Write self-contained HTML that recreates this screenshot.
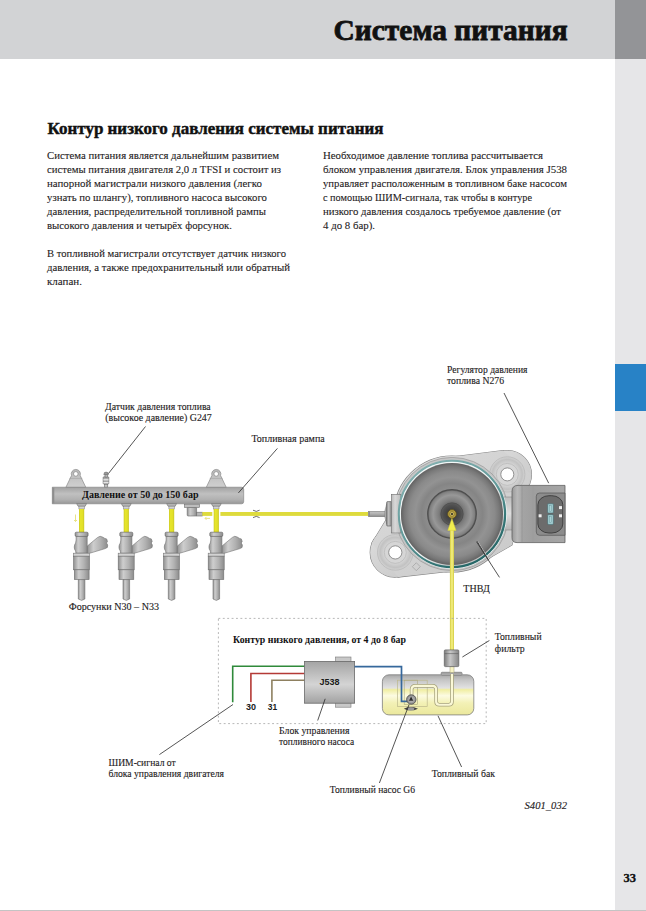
<!DOCTYPE html>
<html><head><meta charset="utf-8">
<style>
html,body{margin:0;padding:0;background:#fff;width:646px;height:911px;overflow:hidden}
svg{display:block}
.t{font-family:"Liberation Serif",serif;font-size:11px;fill:#1e1b22;stroke:#1e1b22;stroke-width:0.1}
.h{font-family:"Liberation Serif",serif;font-weight:bold;fill:#111}
.lb{font-family:"Liberation Serif",serif;font-size:9.6px;fill:#1e1b22;stroke:#1e1b22;stroke-width:0.12}
.s{font-family:"Liberation Sans",sans-serif;font-weight:bold;fill:#1a1a1a}
</style></head><body>
<svg width="646" height="911" viewBox="0 0 646 911">
<defs>
<linearGradient id="capg" x1="0" x2="0" y1="0" y2="1"><stop offset="0" stop-color="#8a8a8a"/><stop offset="1" stop-color="#c4c4c4"/></linearGradient>
<linearGradient id="yel" x1="0" x2="1" y1="0" y2="0"><stop offset="0" stop-color="#cdca28"/><stop offset="0.3" stop-color="#e6e52a"/><stop offset="0.7" stop-color="#e2e028"/><stop offset="1" stop-color="#c9c626"/></linearGradient>
<linearGradient id="yelv" x1="0" x2="1" y1="0" y2="0"><stop offset="0" stop-color="#cdc44a"/><stop offset="0.25" stop-color="#e8e25a"/><stop offset="0.5" stop-color="#f3ef8c"/><stop offset="0.8" stop-color="#e6e058"/><stop offset="1" stop-color="#c8c048"/></linearGradient>
<linearGradient id="injh" x1="0" x2="1" y1="0" y2="0"><stop offset="0" stop-color="#909090"/><stop offset="0.3" stop-color="#cecece"/><stop offset="0.65" stop-color="#b2b2b2"/><stop offset="1" stop-color="#8c8c8c"/></linearGradient>
<linearGradient id="earg" x1="0" x2="0" y1="0" y2="1"><stop offset="0" stop-color="#b8b8b8"/><stop offset="1" stop-color="#d0d0d0"/></linearGradient>
<linearGradient id="railg" x1="0" x2="0" y1="0" y2="1"><stop offset="0" stop-color="#a2a2a2"/><stop offset="0.4" stop-color="#c0c0c0"/><stop offset="0.75" stop-color="#b0b0b0"/><stop offset="1" stop-color="#979797"/></linearGradient>
<linearGradient id="flg" x1="0" x2="1" y1="0" y2="1"><stop offset="0" stop-color="#dedede"/><stop offset="0.5" stop-color="#d2d2d2"/><stop offset="1" stop-color="#c8c8c8"/></linearGradient>
<radialGradient id="earring"><stop offset="0.6" stop-color="#d6d6d6"/><stop offset="0.85" stop-color="#c2c2c2"/><stop offset="1" stop-color="#d4d4d4"/></radialGradient>
<linearGradient id="tubeg" x1="0" x2="0" y1="0" y2="1"><stop offset="0" stop-color="#c4c4c4"/><stop offset="0.5" stop-color="#b0b0b0"/><stop offset="1" stop-color="#8a8a8a"/></linearGradient>
<linearGradient id="fitg" x1="0" x2="1" y1="0" y2="0"><stop offset="0" stop-color="#9a9a9a"/><stop offset="0.4" stop-color="#c2c2c2"/><stop offset="1" stop-color="#7a7a7a"/></linearGradient>
<linearGradient id="blkg" x1="0" x2="1" y1="0" y2="0"><stop offset="0" stop-color="#b8b8b8"/><stop offset="0.4" stop-color="#d8d8d8"/><stop offset="1" stop-color="#bcbcbc"/></linearGradient>
<linearGradient id="blkv" x1="0" x2="0" y1="0" y2="1"><stop offset="0" stop-color="#bdbdbd"/><stop offset="0.5" stop-color="#dedede"/><stop offset="1" stop-color="#b5b5b5"/></linearGradient>
<linearGradient id="tealg" x1="0.2" x2="0.8" y1="0" y2="1"><stop offset="0" stop-color="#86b2b2"/><stop offset="0.5" stop-color="#5f9898"/><stop offset="0.75" stop-color="#347676"/><stop offset="1" stop-color="#226262"/></linearGradient>
<linearGradient id="hlTL" x1="0" x2="1" y1="0" y2="1"><stop offset="0" stop-color="#f4fafa" stop-opacity="1"/><stop offset="0.55" stop-color="#f4fafa" stop-opacity="0.9"/><stop offset="0.75" stop-color="#f4fafa" stop-opacity="0"/></linearGradient>
<linearGradient id="hlBR" x1="0" x2="1" y1="0" y2="1"><stop offset="0.45" stop-color="#eef6f6" stop-opacity="0"/><stop offset="0.7" stop-color="#eef6f6" stop-opacity="1"/></linearGradient>
<radialGradient id="diskg" cx="0.5" cy="0.5" r="0.5"><stop offset="0" stop-color="#7a7a7a"/><stop offset="0.5" stop-color="#8c8c8c"/><stop offset="0.6" stop-color="#858585"/><stop offset="0.72" stop-color="#939393"/><stop offset="0.84" stop-color="#8a8a8a"/><stop offset="0.93" stop-color="#787878"/><stop offset="1" stop-color="#626262"/></radialGradient>
<radialGradient id="innerg" cx="0.5" cy="0.5" r="0.5"><stop offset="0.4" stop-color="#646464"/><stop offset="0.55" stop-color="#7e7e7e"/><stop offset="0.78" stop-color="#989898"/><stop offset="0.93" stop-color="#808080"/><stop offset="1" stop-color="#5c5c5c"/></radialGradient>
<radialGradient id="coreg" cx="0.5" cy="0.5" r="0.5"><stop offset="0.3" stop-color="#3c3c3c"/><stop offset="0.8" stop-color="#505050"/><stop offset="1" stop-color="#5e5e5e"/></radialGradient>
<linearGradient id="connh" x1="0" x2="1" y1="0" y2="0"><stop offset="0" stop-color="#9a9a9a"/><stop offset="0.1" stop-color="#b8b8b8"/><stop offset="0.2" stop-color="#a4a4a4"/><stop offset="0.4" stop-color="#9e9e9e"/><stop offset="1" stop-color="#a6a6a6"/></linearGradient>
<linearGradient id="jg" x1="0" x2="0" y1="0" y2="1"><stop offset="0" stop-color="#a4a4a4"/><stop offset="0.55" stop-color="#d4d4d4"/><stop offset="1" stop-color="#a2a2a2"/></linearGradient>
<linearGradient id="tankg" x1="0" x2="0" y1="0" y2="1"><stop offset="0" stop-color="#a8a8a8"/><stop offset="0.12" stop-color="#c4c4c4"/><stop offset="0.33" stop-color="#e2e2e2"/><stop offset="0.37" stop-color="#f0eea2"/><stop offset="0.52" stop-color="#fcfbe2"/><stop offset="0.7" stop-color="#f3f1b6"/><stop offset="1" stop-color="#ebe89c"/></linearGradient>
<linearGradient id="filg" x1="0" x2="1" y1="0" y2="0"><stop offset="0" stop-color="#7c7c7c"/><stop offset="0.4" stop-color="#c8c8c8"/><stop offset="1" stop-color="#868686"/></linearGradient>
<radialGradient id="g6g"><stop offset="0" stop-color="#c8c8c8"/><stop offset="1" stop-color="#8a8a8a"/></radialGradient>
</defs>
<rect x="0" y="0" width="646" height="911" fill="#fff"/>
<!-- header band -->
<rect x="0" y="0" width="615" height="59" fill="#d2d3d5"/>
<rect x="615" y="0" width="31" height="59" fill="#939497"/>
<rect x="615" y="59" width="31" height="852" fill="#e6e6e8"/>
<rect x="615" y="364" width="31" height="47" fill="#2882c6"/>
<rect x="0" y="910" width="646" height="1" fill="#c4c4c4"/>
<text class="h" x="333.6" y="40.2" font-size="29.6" stroke="#111" stroke-width="0.8" textLength="234" lengthAdjust="spacingAndGlyphs">Система питания</text>
<text class="h" x="623.5" y="882" font-size="12" stroke="#111" stroke-width="0.3" textLength="12.5" lengthAdjust="spacingAndGlyphs">33</text>

<!-- section heading -->
<text class="h" x="47.5" y="134" font-size="17.5" stroke="#111" stroke-width="0.45" textLength="336" lengthAdjust="spacingAndGlyphs">Контур низкого давления системы питания</text>

<!-- left column -->
<g class="t">
<text x="47" y="159" textLength="232" lengthAdjust="spacingAndGlyphs">Система питания является дальнейшим развитием</text>
<text x="47" y="173" textLength="234" lengthAdjust="spacingAndGlyphs">системы питания двигателя 2,0 л TFSI и состоит из</text>
<text x="47" y="187" textLength="215" lengthAdjust="spacingAndGlyphs">напорной магистрали низкого давления (легко</text>
<text x="47" y="201" textLength="220" lengthAdjust="spacingAndGlyphs">узнать по шлангу), топливного насоса высокого</text>
<text x="47" y="214.5" textLength="219" lengthAdjust="spacingAndGlyphs">давления, распределительной топливной рампы</text>
<text x="47" y="228.5" textLength="185" lengthAdjust="spacingAndGlyphs">высокого давления и четырёх форсунок.</text>
<text x="47" y="257.3" textLength="239" lengthAdjust="spacingAndGlyphs">В топливной магистрали отсутствует датчик низкого</text>
<text x="47" y="271.2" textLength="243" lengthAdjust="spacingAndGlyphs">давления, а также предохранительный или обратный</text>
<text x="47" y="285" textLength="35" lengthAdjust="spacingAndGlyphs">клапан.</text>
</g>
<!-- right column -->
<g class="t">
<text x="323" y="159" textLength="220" lengthAdjust="spacingAndGlyphs">Необходимое давление топлива рассчитывается</text>
<text x="323" y="173" textLength="244" lengthAdjust="spacingAndGlyphs">блоком управления двигателя. Блок управления J538</text>
<text x="323" y="187" textLength="244" lengthAdjust="spacingAndGlyphs">управляет расположенным в топливном баке насосом</text>
<text x="323" y="201" textLength="209" lengthAdjust="spacingAndGlyphs">с помощью ШИМ-сигнала, так чтобы в контуре</text>
<text x="323" y="214.5" textLength="238" lengthAdjust="spacingAndGlyphs">низкого давления создалось требуемое давление (от</text>
<text x="323" y="228.5" textLength="52" lengthAdjust="spacingAndGlyphs">4 до 8 бар).</text>
</g>

<!-- DIAGRAM -->
<g id="diagram">
<!-- ears -->
<g>
<path d="M65.8,487.5 L71.5,475.5 A4.6,4.6 0 1 1 80.2,475.5 L85.9,487.5 Z" fill="url(#earg)" stroke="#7a7a7a" stroke-width="0.6"/>
<line x1="69.3" y1="478.4" x2="82.3" y2="478.4" stroke="#9a9a9a" stroke-width="0.5"/>
<circle cx="75.8" cy="473.9" r="2.3" fill="#fff" stroke="#777" stroke-width="0.6"/>
<path d="M206.2,487.5 L211.9,475.5 A4.6,4.6 0 1 1 220.6,475.5 L226.3,487.5 Z" fill="url(#earg)" stroke="#7a7a7a" stroke-width="0.6"/>
<line x1="209.7" y1="478.4" x2="222.7" y2="478.4" stroke="#9a9a9a" stroke-width="0.5"/>
<circle cx="216.2" cy="473.9" r="2.3" fill="#fff" stroke="#777" stroke-width="0.6"/>
</g>
<!-- pressure sensor G247 -->
<g stroke="#5a5a5a" stroke-width="0.5">
<rect x="104.4" y="484" width="3.4" height="3.4" fill="#c4c4c4"/>
<rect x="103.1" y="476.8" width="5.7" height="7.3" rx="0.8" fill="#a8a8a8"/>
<rect x="103.4" y="478.9" width="5.1" height="1.6" fill="#dedede" stroke="none"/>
<rect x="103.4" y="482" width="5.1" height="1.3" fill="#e6e6e6" stroke="none"/>
<rect x="105" y="474.4" width="2.4" height="2.6" fill="#c8c8c8"/>
<path d="M103.8,474.8 L104.4,472.6 Q106.1,471.6 107.8,472.6 L108.4,474.8 Z" fill="#9a9a9a"/>
</g>
<!-- rail -->
<path d="M52.3,487.2 L241.5,487.2 Q243.7,487.2 243.7,489.4 L243.7,501.6 Q243.7,503.8 241.5,503.8 L52.3,503.8 Z" fill="url(#railg)" stroke="#7c7c7c" stroke-width="0.6"/>
<rect x="52.3" y="487.6" width="2" height="15.8" fill="#8e8e8e"/>
<text class="h" x="82" y="497.8" font-size="10.5" textLength="116.5" lengthAdjust="spacingAndGlyphs" fill="#151515">Давление от 50 до 150 бар</text>
<!-- pressure port box -->
<g stroke="#6a6a6a" stroke-width="0.6">
<rect x="196.4" y="512.2" width="6.2" height="3.8" fill="#b8b8b8"/>
<rect x="187.2" y="507.2" width="9.4" height="8.8" rx="1" fill="url(#injh)"/>
<rect x="184.5" y="504.2" width="15" height="3.2" fill="#bdbdbd"/>
</g>
<!-- yellow line to pump -->
<rect x="202.3" y="512" width="10" height="3.9" fill="#dedb3c"/>
<rect x="220.4" y="512" width="148" height="3.9" fill="#dedb3c"/>
<path d="M253,510.2 Q256.3,512.6 259.6,510.2 M253,517.6 Q256.3,515.2 259.6,517.6" stroke="#444" stroke-width="0.8" fill="none"/>
<!-- small arrows -->
<path d="M210,518.4 L205,518.4 M206.5,516.9 L205,518.4 L206.5,519.9" stroke="#e6e07a" stroke-width="0.9" fill="none"/>
<path d="M75.5,514.5 L75.5,521.5 M74,520 L75.5,521.5 L77,520" stroke="#e6e07a" stroke-width="0.9" fill="none"/>
<g class="inj"><path d="M76.7,503.6 L86.5,503.6 L85.2,506.2 L78.0,506.2 Z" fill="#b9b9b9" stroke="#6a6a6a" stroke-width="0.6"/><rect x="78.9" y="506.2" width="5.4" height="2.8" fill="#d2d2d2" stroke="#7a7a7a" stroke-width="0.5"/><rect x="79.0" y="509" width="5.2" height="23.6" fill="url(#yel)"/><path d="M87.1,546.2 L97.7,537.4 L100.1,536.3 L102.6,537.1 L104.8,538.4 L106.6,538.9 L107.5,541.4 L106.5,543 L107.7,545 L107.4,547.4 L105.2,548.6 L87.1,554 Z" fill="url(#injh)" stroke="#707070" stroke-width="0.6"/><path d="M76.1,536 L87.2,536 L87.2,553.2 L75.9,553.2 L75.6,551 C73.7,549 73.9,545 75.6,543 L76.1,540 Z" fill="url(#injh)" stroke="#707070" stroke-width="0.6"/><rect x="75.1" y="532.2" width="13" height="4.2" rx="1.2" fill="url(#injh)" stroke="#5e5e5e" stroke-width="0.6"/><rect x="73.5" y="553.2" width="16" height="3" fill="#d2d2d2" stroke="#777" stroke-width="0.6"/><rect x="73.5" y="556.2" width="16" height="13.6" fill="url(#injh)" stroke="#6f6f6f" stroke-width="0.6"/><rect x="74.3" y="569.8" width="14.8" height="9.8" fill="url(#injh)" stroke="#6f6f6f" stroke-width="0.6"/><path d="M78.3,579.6 L84.9,579.6 L84.9,599 L81.6,600.4 L78.3,599 Z" fill="url(#injh)" stroke="#6f6f6f" stroke-width="0.6"/></g>
<g class="inj"><path d="M121.4,503.6 L131.2,503.6 L129.9,506.2 L122.7,506.2 Z" fill="#b9b9b9" stroke="#6a6a6a" stroke-width="0.6"/><rect x="123.6" y="506.2" width="5.4" height="2.8" fill="#d2d2d2" stroke="#7a7a7a" stroke-width="0.5"/><rect x="123.7" y="509" width="5.2" height="23.6" fill="url(#yel)"/><path d="M131.8,546.2 L142.4,537.4 L144.8,536.3 L147.3,537.1 L149.5,538.4 L151.3,538.9 L152.2,541.4 L151.2,543 L152.4,545 L152.1,547.4 L149.9,548.6 L131.8,554 Z" fill="url(#injh)" stroke="#707070" stroke-width="0.6"/><path d="M120.8,536 L131.9,536 L131.9,553.2 L120.6,553.2 L120.3,551 C118.4,549 118.6,545 120.3,543 L120.8,540 Z" fill="url(#injh)" stroke="#707070" stroke-width="0.6"/><rect x="119.8" y="532.2" width="13" height="4.2" rx="1.2" fill="url(#injh)" stroke="#5e5e5e" stroke-width="0.6"/><rect x="118.2" y="553.2" width="16" height="3" fill="#d2d2d2" stroke="#777" stroke-width="0.6"/><rect x="118.2" y="556.2" width="16" height="13.6" fill="url(#injh)" stroke="#6f6f6f" stroke-width="0.6"/><rect x="119.0" y="569.8" width="14.8" height="9.8" fill="url(#injh)" stroke="#6f6f6f" stroke-width="0.6"/><path d="M123.0,579.6 L129.6,579.6 L129.6,599 L126.3,600.4 L123.0,599 Z" fill="url(#injh)" stroke="#6f6f6f" stroke-width="0.6"/></g>
<g class="inj"><path d="M166.7,503.6 L176.5,503.6 L175.2,506.2 L168.0,506.2 Z" fill="#b9b9b9" stroke="#6a6a6a" stroke-width="0.6"/><rect x="168.9" y="506.2" width="5.4" height="2.8" fill="#d2d2d2" stroke="#7a7a7a" stroke-width="0.5"/><rect x="169.0" y="509" width="5.2" height="23.6" fill="url(#yel)"/><path d="M177.1,546.2 L187.7,537.4 L190.1,536.3 L192.6,537.1 L194.8,538.4 L196.6,538.9 L197.5,541.4 L196.5,543 L197.7,545 L197.4,547.4 L195.2,548.6 L177.1,554 Z" fill="url(#injh)" stroke="#707070" stroke-width="0.6"/><path d="M166.1,536 L177.2,536 L177.2,553.2 L165.9,553.2 L165.6,551 C163.7,549 163.9,545 165.6,543 L166.1,540 Z" fill="url(#injh)" stroke="#707070" stroke-width="0.6"/><rect x="165.1" y="532.2" width="13" height="4.2" rx="1.2" fill="url(#injh)" stroke="#5e5e5e" stroke-width="0.6"/><rect x="163.5" y="553.2" width="16" height="3" fill="#d2d2d2" stroke="#777" stroke-width="0.6"/><rect x="163.5" y="556.2" width="16" height="13.6" fill="url(#injh)" stroke="#6f6f6f" stroke-width="0.6"/><rect x="164.3" y="569.8" width="14.8" height="9.8" fill="url(#injh)" stroke="#6f6f6f" stroke-width="0.6"/><path d="M168.3,579.6 L174.9,579.6 L174.9,599 L171.6,600.4 L168.3,599 Z" fill="url(#injh)" stroke="#6f6f6f" stroke-width="0.6"/></g>
<g class="inj"><path d="M211.4,503.6 L221.2,503.6 L219.9,506.2 L212.7,506.2 Z" fill="#b9b9b9" stroke="#6a6a6a" stroke-width="0.6"/><rect x="213.6" y="506.2" width="5.4" height="2.8" fill="#d2d2d2" stroke="#7a7a7a" stroke-width="0.5"/><rect x="213.7" y="509" width="5.2" height="23.6" fill="url(#yel)"/><path d="M221.8,546.2 L232.4,537.4 L234.8,536.3 L237.3,537.1 L239.5,538.4 L241.3,538.9 L242.2,541.4 L241.2,543 L242.4,545 L242.1,547.4 L239.9,548.6 L221.8,554 Z" fill="url(#injh)" stroke="#707070" stroke-width="0.6"/><path d="M210.8,536 L221.9,536 L221.9,553.2 L210.6,553.2 L210.3,551 C208.4,549 208.6,545 210.3,543 L210.8,540 Z" fill="url(#injh)" stroke="#707070" stroke-width="0.6"/><rect x="209.8" y="532.2" width="13" height="4.2" rx="1.2" fill="url(#injh)" stroke="#5e5e5e" stroke-width="0.6"/><rect x="208.2" y="553.2" width="16" height="3" fill="#d2d2d2" stroke="#777" stroke-width="0.6"/><rect x="208.2" y="556.2" width="16" height="13.6" fill="url(#injh)" stroke="#6f6f6f" stroke-width="0.6"/><rect x="209.0" y="569.8" width="14.8" height="9.8" fill="url(#injh)" stroke="#6f6f6f" stroke-width="0.6"/><path d="M213.0,579.6 L219.6,579.6 L219.6,599 L216.3,600.4 L213.0,599 Z" fill="url(#injh)" stroke="#6f6f6f" stroke-width="0.6"/></g>
<!-- PUMP -->
<g id="pump">
<!-- flange outline (stroke layer) -->
<g fill="#c9c9c9" stroke="#858585" stroke-width="1.1">
<circle cx="394.8" cy="552.5" r="24.6"/>
<circle cx="507.5" cy="474.5" r="24"/>
<circle cx="452" cy="514" r="58"/>
<path d="M372,543 L386,520 L400,490 L436,459 L503,450.6 L531,474 L512,545 L470,569 L398,577.1 Z"/>
</g>
<g fill="url(#flg)" stroke="none">
<circle cx="394.8" cy="552.5" r="24.6"/>
<circle cx="507.5" cy="474.5" r="24"/>
<circle cx="452" cy="514" r="58"/>
<path d="M372,543 L386,520 L400,490 L436,459 L503,450.6 L531,474 L512,545 L470,569 L398,577.1 Z"/>
</g>
<!-- ear rings -->
<circle cx="395.3" cy="552.4" r="17.8" fill="url(#earring)" stroke="#b0b0b0" stroke-width="0.6"/>
<circle cx="395.3" cy="552.4" r="11" fill="#d6d6d6" stroke="#b2b2b2" stroke-width="0.6"/>
<circle cx="395.3" cy="552.4" r="6.6" fill="#fff" stroke="#6a6a6a" stroke-width="0.7"/>
<circle cx="507.3" cy="474.4" r="17.6" fill="url(#earring)" stroke="#b0b0b0" stroke-width="0.6"/>
<circle cx="507.3" cy="474.4" r="11" fill="#d6d6d6" stroke="#b2b2b2" stroke-width="0.6"/>
<circle cx="507.3" cy="474.4" r="6.5" fill="#fff" stroke="#6a6a6a" stroke-width="0.7"/>
<rect x="413.5" y="563.9" width="5.6" height="5.6" transform="rotate(45 416.3 566.7)" fill="none" stroke="#9a9a9a" stroke-width="0.6"/>
<circle cx="452" cy="514" r="56.6" fill="#c6c6c6" stroke="#8e8e8e" stroke-width="0.6"/>
<!-- left fitting -->
<rect x="368.5" y="511.3" width="17" height="5.4" fill="url(#tubeg)" stroke="#6e6e6e" stroke-width="0.5"/>
<rect x="368.5" y="511.3" width="1.4" height="5.4" fill="#8a8a8a"/>
<path d="M384.8,511 L386.8,503.4 L386.8,524.2 L384.8,517 Z" fill="#b0b0b0" stroke="#6e6e6e" stroke-width="0.4"/>
<rect x="386.7" y="501.6" width="5" height="24.4" rx="0.8" fill="url(#fitg)" stroke="#555" stroke-width="0.6"/>
<rect x="391.3" y="494.3" width="9.6" height="38.7" fill="url(#blkg)" stroke="#6e6e6e" stroke-width="0.6"/>
<!-- right neck -->
<rect x="498" y="497" width="16" height="33" fill="url(#blkv)" stroke="#8a8a8a" stroke-width="0.6"/>
<!-- pump body -->
<circle cx="452" cy="514" r="54.6" fill="none" stroke="url(#hlBR)" stroke-width="1"/>
<circle cx="452" cy="514" r="53.1" fill="none" stroke="url(#tealg)" stroke-width="2.2"/>
<circle cx="452" cy="514" r="51.6" fill="none" stroke="url(#hlTL)" stroke-width="1.1"/>
<circle cx="452" cy="514" r="51" fill="url(#diskg)"/>
<circle cx="452" cy="514" r="24.3" fill="url(#innerg)" stroke="#4e4e4e" stroke-width="1.2"/>
<circle cx="452" cy="514" r="11.2" fill="url(#coreg)" stroke="#474747" stroke-width="0.6"/>
<circle cx="452" cy="514" r="4.4" fill="#b59e3c" stroke="#5e5020" stroke-width="0.8"/>
<circle cx="452" cy="514" r="2.3" fill="#d6c264" stroke="#6a5a24" stroke-width="0.5"/>
<circle cx="452" cy="514" r="1" fill="#222"/>
<!-- connector -->
<g>
<path d="M518,485.4 L565,485.4 L565,542.6 L517,542.6 Q512,542.6 512,537.6 L512,491.4 Q512,485.4 518,485.4 Z" fill="url(#connh)" stroke="#5e5e5e" stroke-width="0.8"/>
<line x1="522" y1="486" x2="522" y2="542" stroke="#8a8a8a" stroke-width="0.5"/>
<line x1="533" y1="486" x2="533" y2="542" stroke="#9a9a9a" stroke-width="0.4"/>
<path d="M539.5,493 L565,493 L565,535.3 L539.5,535.3 Q536.3,535.3 536.3,532 L536.3,496.3 Q536.3,493 539.5,493 Z" fill="#8c8c8c" stroke="#555" stroke-width="0.7"/>
<rect x="537.9" y="495.7" width="24.9" height="37.3" rx="11" ry="9" fill="#6c6c6c" stroke="#3a3a3a" stroke-width="0.9"/>
<rect x="547.7" y="503.8" width="5.6" height="9.2" rx="0.8" fill="#a8d2d6" stroke="#3c6a70" stroke-width="0.6"/>
<rect x="547.7" y="514.7" width="5.6" height="9.7" rx="0.8" fill="#a8d2d6" stroke="#3c6a70" stroke-width="0.6"/>
<rect x="549.4" y="505.6" width="2.2" height="5.6" fill="none" stroke="#5c8a90" stroke-width="0.4"/>
<rect x="549.4" y="516.6" width="2.2" height="5.8" fill="none" stroke="#5c8a90" stroke-width="0.4"/>
<rect x="538.6" y="514.3" width="3" height="3" fill="#eeeeee"/>
<rect x="559" y="506.1" width="3" height="3" fill="#eeeeee"/>
<rect x="559" y="514.3" width="3" height="3" fill="#eeeeee"/>
</g>
</g>
<!-- leader THBD (white+dark) -->
<line x1="477.3" y1="541.2" x2="491" y2="563.6" stroke="#f4f4f4" stroke-width="1.1"/>
<line x1="476.6" y1="541.8" x2="499.5" y2="577.4" stroke="#2a2a2a" stroke-width="0.8"/>
<!-- vertical yellow line pump->filter -->
<rect x="449.9" y="528" width="4.1" height="122" fill="url(#yelv)"/>
<path d="M451.9,518.4 L456,530.4 L447.8,530.4 Z" fill="#f2ee4e" stroke="#d8d040" stroke-width="0.5"/>
<!-- dashed box -->
<rect x="218.4" y="618.4" width="267.8" height="105.2" fill="none" stroke="#a4a4a4" stroke-width="0.8" stroke-dasharray="1.9 2.5"/>
<text class="h" x="233" y="643.4" font-size="10.5" textLength="173" lengthAdjust="spacingAndGlyphs">Контур низкого давления, от 4 до 8 бар</text>
<!-- wires -->
<path d="M304.5,666.3 L232.7,666.3 L232.7,702.3" stroke="#2f8a3a" stroke-width="1.6" fill="none"/>
<path d="M304.5,673.5 L250.9,673.5 L250.9,702" stroke="#b43a36" stroke-width="1.6" fill="none"/>
<path d="M304.5,680.2 L271.9,680.2 L271.9,702" stroke="#8e8060" stroke-width="1.6" fill="none"/>
<text class="s" x="246" y="710.3" font-size="9.5" textLength="10" lengthAdjust="spacingAndGlyphs">30</text>
<text class="s" x="267.8" y="710.3" font-size="9.5" textLength="9.4" lengthAdjust="spacingAndGlyphs">31</text>
<!-- J538 -->
<rect x="335.5" y="657" width="15.5" height="5" fill="#c8c8c8" stroke="#7a7a7a" stroke-width="0.6"/>
<rect x="335.5" y="702.5" width="15.5" height="4.7" fill="#c8c8c8" stroke="#7a7a7a" stroke-width="0.6"/>
<rect x="304.5" y="661.4" width="50.1" height="41.8" fill="url(#jg)" stroke="#6a6a6a" stroke-width="0.8"/>
<text class="s" x="319.5" y="685.2" font-size="9.5" textLength="20" lengthAdjust="spacingAndGlyphs">J538</text>
<!-- tank -->
<rect x="382.4" y="674.8" width="91.4" height="40.1" rx="6.5" fill="url(#tankg)" stroke="#7e7e7e" stroke-width="0.8"/>
<!-- tank cap flange -->
<rect x="441" y="672.2" width="21.2" height="2.9" rx="1.2" fill="url(#capg)" stroke="#6e6e6e" stroke-width="0.5"/>
<!-- filter -->
<rect x="450" y="666.6" width="4" height="6" fill="#f8f4c4" stroke="#9a9878" stroke-width="0.5"/>
<rect x="444.3" y="649.9" width="14.5" height="16.7" rx="1" fill="url(#filg)" stroke="#5e5e5e" stroke-width="0.7"/>
<line x1="444.6" y1="653.6" x2="458.5" y2="653.6" stroke="#5e5e5e" stroke-width="0.6"/>
<!-- in-tank rectangles -->
<rect x="397.6" y="680.2" width="29.6" height="26.2" fill="none" stroke="#bdb98c" stroke-width="0.7"/>
<rect x="404.2" y="680.2" width="13.3" height="24.3" fill="none" stroke="#a9a57a" stroke-width="0.6"/>
<!-- in-tank pipe -->
<path d="M452,674 L452,701.6 Q452,704.8 448.8,704.8 L439.4,704.8 Q436.1,704.8 436.1,701.6 L436.1,689.6 Q436.1,685.9 432.4,685.9 L415.4,685.9 Q411.6,685.9 411.6,689.6 L411.6,699" stroke="#a6a27c" stroke-width="3.6" fill="none"/>
<path d="M452,674 L452,701.6 Q452,704.8 448.8,704.8 L439.4,704.8 Q436.1,704.8 436.1,701.6 L436.1,689.6 Q436.1,685.9 432.4,685.9 L415.4,685.9 Q411.6,685.9 411.6,689.6 L411.6,699" stroke="#faf8d6" stroke-width="2.1" fill="none"/>
<path d="M354.6,666.6 L401.5,666.6 L401.5,701.3 L408,701.3" stroke="#36689c" stroke-width="1.7" fill="none"/>
<!-- G6 pump -->
<path d="M403.8,708.8 L407.5,707.2 L414,707.2 L418,708.8 L414,710.3 L407.5,710.3 Z" fill="#3e3e3e"/>
<ellipse cx="410.8" cy="708.8" rx="3.6" ry="1.6" fill="#9a9a9a"/>
<circle cx="411.3" cy="699.5" r="4.7" fill="url(#g6g)" stroke="#4a4a4a" stroke-width="0.8"/>
<path d="M411.1,696.6 L413.3,700.8 L408.9,700.8 Z" fill="#2b2b2b"/>
<!-- leader lines bottom -->
<g stroke="#2a2a2a" stroke-width="0.8" fill="none">
<line x1="159.4" y1="754.6" x2="233" y2="704.5"/>
<line x1="325.2" y1="698.8" x2="317.7" y2="720.5"/>
<line x1="409" y1="704.7" x2="379.4" y2="783"/>
<line x1="438" y1="715.8" x2="461.6" y2="767"/>
<line x1="462.4" y1="657" x2="489.4" y2="640.5"/>
</g>
<!-- leader lines top -->
<g stroke="#2a2a2a" stroke-width="0.8" fill="none">
<line x1="145.5" y1="426.5" x2="108.4" y2="473.6"/>
<line x1="277.4" y1="448.4" x2="238.4" y2="492.9"/>
<line x1="504" y1="393" x2="548.7" y2="483.2"/>
<line x1="488.5" y1="560" x2="477" y2="541"/>
</g>
<g class="lb">
<text x="105" y="409.7" textLength="105.7" lengthAdjust="spacingAndGlyphs">Датчик давления топлива</text>
<text x="105.3" y="420.6" textLength="106.5" lengthAdjust="spacingAndGlyphs">(высокое давление) G247</text>
<text x="251.5" y="442.2" textLength="73.2" lengthAdjust="spacingAndGlyphs">Топливная рампа</text>
<text x="447" y="373.2" textLength="80.5" lengthAdjust="spacingAndGlyphs">Регулятор давления</text>
<text x="447" y="384.3" textLength="57" lengthAdjust="spacingAndGlyphs">топлива N276</text>
<text x="463.3" y="592" textLength="26.5" lengthAdjust="spacingAndGlyphs">ТНВД</text>
<text x="68.7" y="610.2" textLength="90.3" lengthAdjust="spacingAndGlyphs">Форсунки N30 – N33</text>
<text x="494.8" y="640" textLength="46.8" lengthAdjust="spacingAndGlyphs">Топливный</text>
<text x="494.8" y="652" textLength="30" lengthAdjust="spacingAndGlyphs">фильтр</text>
<text x="108.5" y="765.8" textLength="67.2" lengthAdjust="spacingAndGlyphs">ШИМ-сигнал от</text>
<text x="108.5" y="776.9" textLength="115.5" lengthAdjust="spacingAndGlyphs">блока управления двигателя</text>
<text x="279.1" y="733.6" textLength="70.3" lengthAdjust="spacingAndGlyphs">Блок управления</text>
<text x="279.1" y="744.7" textLength="75.2" lengthAdjust="spacingAndGlyphs">топливного насоса</text>
<text x="329.8" y="793" textLength="85.2" lengthAdjust="spacingAndGlyphs">Топливный насос G6</text>
<text x="431.7" y="777" textLength="63.3" lengthAdjust="spacingAndGlyphs">Топливный бак</text>
<text x="524.5" y="808.6" font-style="italic" font-size="10.5" textLength="42.5" lengthAdjust="spacingAndGlyphs">S401_032</text>
</g>
</g>
</svg>
</body></html>
